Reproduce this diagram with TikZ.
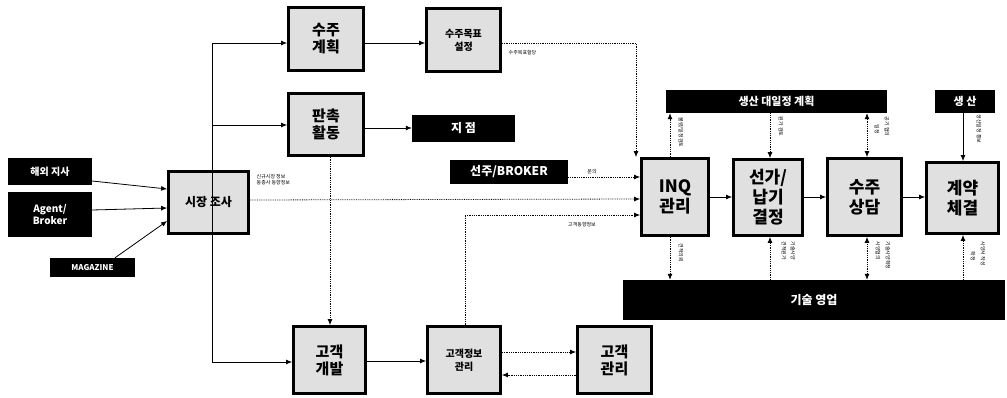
\documentclass[tikz,border=0pt]{standalone}
\usepackage{fontspec}
\setmainfont{Noto Sans CJK KR}
\usetikzlibrary{arrows.meta}
\begin{document}
\begin{tikzpicture}[x=1pt,y=-1pt,
 gbox/.style={draw=black, line width=2.8pt, fill=gray!24, inner sep=0pt, align=center, font=\bfseries\fontsize{15}{17}\selectfont},
 kbox/.style={fill=black, text=white, inner sep=0pt, align=center, font=\bfseries\fontsize{10}{12}\selectfont},
 ar/.style={-{Latex[length=6pt,width=5pt]}, line width=0.8pt},
 dar/.style={ar, densely dotted},
 dln/.style={line width=0.8pt, densely dotted},
 lbl/.style={font=\fontsize{5}{6}\selectfont, inner sep=0.5pt, align=left},
 vlbl/.style={lbl, rotate=-90},
]
\useasboundingbox (0,0) rectangle (1007,398);

% black source boxes
\node[kbox, minimum width=84pt, minimum height=27pt] (haeoe) at (50,171.5) {해외 지사};
\node[kbox, minimum width=84pt, minimum height=45pt] (agent) at (50,214.5) {Agent/\\Broker};
\node[kbox, minimum width=85pt, minimum height=19pt, font=\bfseries\fontsize{8}{10}\selectfont] (mag) at (92.5,267.5) {MAGAZINE};

% gray boxes
\node[gbox, minimum width=80pt, minimum height=62pt, font=\bfseries\fontsize{12}{14}\selectfont] (sijang) at (208.5,202.5) {시장 조사};
\node[gbox, minimum width=75pt, minimum height=63pt] (plan) at (326,39) {수주\\계획};
\node[gbox, minimum width=74pt, minimum height=63pt, font=\bfseries\fontsize{10}{13}\selectfont] (mokpyo) at (463.5,40) {수주목표\\설정};
\node[gbox, minimum width=75pt, minimum height=62pt] (panchok) at (326,124.5) {판촉\\활동};
\node[kbox, minimum width=103pt, minimum height=27pt, font=\bfseries\fontsize{12}{14}\selectfont] (jijeom) at (463.5,128.5) {지 점};
\node[kbox, minimum width=118pt, minimum height=24pt, font=\bfseries\fontsize{12}{14}\selectfont] (broker) at (509,172) {선주/BROKER};

\node[gbox, minimum width=67pt, minimum height=77pt, font=\bfseries\fontsize{17}{20}\selectfont] (inq) at (675,197) {INQ\\관리};
\node[gbox, minimum width=69pt, minimum height=76pt, font=\bfseries\fontsize{17}{20}\selectfont] (seonga) at (768,197.5) {선가/\\납기\\결정};
\node[gbox, minimum width=74pt, minimum height=77pt, font=\bfseries\fontsize{17}{20}\selectfont] (sangdam) at (864.5,197) {수주\\상담};
\node[gbox, minimum width=72pt, minimum height=71pt, font=\bfseries\fontsize{17}{20}\selectfont] (gyeyak) at (962.5,198) {계약\\체결};

\node[kbox, minimum width=221pt, minimum height=23pt, font=\bfseries\fontsize{11}{13}\selectfont] (daeil) at (776.5,101.5) {생산 대일정 계획};
\node[kbox, minimum width=60pt, minimum height=23pt, font=\bfseries\fontsize{11}{13}\selectfont] (saengsan) at (965,101.5) {생 산};
\node[kbox, minimum width=382pt, minimum height=40pt, font=\bfseries\fontsize{12}{14}\selectfont] (gisul) at (814,300) {기술 영업};

\node[gbox, minimum width=72pt, minimum height=67pt] (gaebal) at (329.5,360) {고객\\개발};
\node[gbox, minimum width=73pt, minimum height=67pt, font=\bfseries\fontsize{10}{13}\selectfont] (info) at (464,360) {고객정보\\관리};
\node[gbox, minimum width=74pt, minimum height=67pt] (gwanri) at (614.5,360) {고객\\관리};

% trunk
\coordinate (tTop) at (212,43);
\coordinate (tBot) at (212,362);
\draw[line width=0.8pt] (tTop) -- (tBot);
\draw[ar] (tTop) -- (plan.west |- tTop);
\draw[ar] (212,125) -- (panchok.west |- 0,125);
\draw[ar] (tBot) -- (gaebal.west |- tBot);

% inputs to 시장조사
\draw[ar] (haeoe.east |- 0,181) -- (sijang.west |- 0,189);
\draw[ar] (agent.east |- 0,210) -- (sijang.west |- 0,208);
\draw[ar] (mag.north -| 115,0) -- (sijang.west |- 0,221);

% top row
\draw[ar] (plan.east |- 0,43) -- (mokpyo.west |- 0,43);
\draw[ar] (panchok.east |- 0,128) -- (jijeom.west |- 0,128);
\coordinate (mkcorner) at (636,43);
\draw[dar] (mokpyo.east |- 0,43) -- (mkcorner) -- (inq.north -| 636,0);
\node[lbl, anchor=north west] (lmk) at (508,50) {수주목표할당};

% into INQ
\draw[dar] (broker.east |- 0,177) -- (inq.west |- 0,177);
\node[lbl, anchor=south] (lbr) at (592,175) {문의};
\draw[dar] (sijang.east |- 0,200) -- (inq.west |- 0,199);
\node[lbl, anchor=north west] (lsj) at (256,174) {신규시장 정보\\동종사 동향정보};
\coordinate (icorner) at (465,215);
\draw[dln] (info.north -| 465,0) -- (icorner);
\draw[dar] (icorner) -- (inq.west |- 0,215);
\node[lbl, anchor=north] (lin) at (582,222) {고객동향정보};

\draw[dar] (panchok.south -| 330,0) -- (gaebal.north -| 330,0);

% main chain
\draw[ar] (inq.east |- 0,197) -- (seonga.west |- 0,197);
\draw[ar] (seonga.east |- 0,197) -- (sangdam.west |- 0,197);
\draw[ar] (sangdam.east |- 0,197) -- (gyeyak.west |- 0,197);

% bottom row
\draw[ar] (gaebal.east |- 0,361) -- (info.west |- 0,361);
\draw[dar] (info.east |- 0,352) -- (gwanri.west |- 0,352);
\draw[dar] (gwanri.west |- 0,375) -- (info.east |- 0,375);

% verticals to planning bar
\draw[dar] (inq.north -| 670,0) -- (daeil.south -| 670,0);
\node[vlbl, anchor=north west] (v1) at (684,117) {물량/일정검토};
\draw[dar] (daeil.south -| 770,0) -- (seonga.north -| 770,0);
\node[vlbl, anchor=north west] (v2) at (784,116) {원가 검토};
\draw[dar, {Latex[length=6pt,width=5pt]}-{Latex[length=6pt,width=5pt]}] (daeil.south -| 867,0) -- (sangdam.north -| 867,0);
\node[vlbl, anchor=north west] (v3) at (880,124) {일정};
\node[vlbl, anchor=north west] (v4) at (890,116) {공기 협의};
\draw[ar] (saengsan.south -| 963,0) -- (gyeyak.north -| 963,0);
\node[vlbl, anchor=north west] (v5) at (982,114) {생산일정 통보};

% verticals to 기술영업
\draw[dar] (inq.south -| 670,0) -- (gisul.north -| 670,0);
\node[vlbl, anchor=north west] (v6) at (684,243) {견적의뢰};
\draw[dar] (gisul.north -| 770,0) -- (seonga.south -| 770,0);
\node[vlbl, anchor=north west] (v7) at (787,241) {견적원가};
\node[vlbl, anchor=north west] (v8) at (796,241) {기술사양};
\draw[dar, {Latex[length=6pt,width=5pt]}-{Latex[length=6pt,width=5pt]}] (sangdam.south -| 867,0) -- (gisul.north -| 867,0);
\node[vlbl, anchor=north west] (v9) at (881,241) {사양협의};
\node[vlbl, anchor=north west] (v10) at (891,241) {기술사양확정};
\draw[dar] (gisul.north -| 963,0) -- (gyeyak.south -| 963,0);
\node[vlbl, anchor=north west] (v11) at (976,251) {확정};
\node[vlbl, anchor=north west] (v12) at (986,241) {사양서 작성};
\end{tikzpicture}
\end{document}
